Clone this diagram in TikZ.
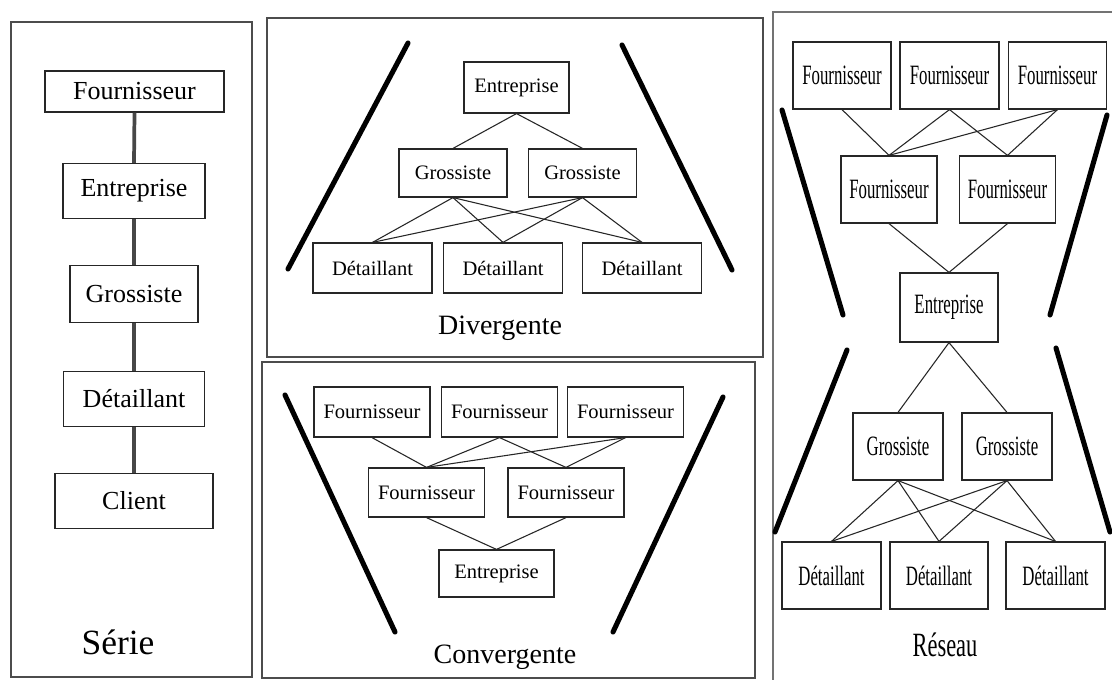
\documentclass[tikz,border=0pt]{standalone}
\usepackage{fontspec}
\setmainfont{Liberation Serif}
\usepackage{graphicx}
% condensed lettering used in the network panel
\newcommand\narrowtxt[2][0.6]{\scalebox{#1}[1]{#2}}
\begin{document}
\begin{tikzpicture}[x=0.75pt,y=-0.75pt,
  panel/.style={draw=black!70, line width=1.4pt},
  sbox/.style={draw=black!85, line width=1pt, fill=white, inner sep=0pt,
    font=\fontsize{19.5}{22}\selectfont},
  mbox/.style={draw=black!85, line width=0.9pt, fill=white, inner sep=0pt,
    font=\fontsize{15.4}{18}\selectfont},
  rbox/.style={draw=black!85, line width=0.9pt, fill=white, inner sep=0pt,
    font=\fontsize{21}{24}\selectfont},
  sline/.style={draw=black!72, line width=2.8pt},
  link/.style={draw=black!85, line width=0.8pt},
  bar/.style={line width=3.8pt, line cap=round},
  title/.style={inner sep=0pt, font=\fontsize{21}{24}\selectfont}]

\clip (0,0) rectangle (1112,680);
\fill[white] (0,0) rectangle (1112,680);

% ---------- panel frames ----------
\draw[panel] (11,22) rectangle (252,677);
\draw[panel] (267,18) rectangle (763,357);
\draw[panel] (262,362) rectangle (755,678);
\draw[panel, draw=black!55, line width=2pt] (773,690) -- (773,12) -- (1120,12);

% ---------- Série ----------
\node[sbox, minimum width=134.25pt, minimum height=30.75pt] (s1) at (134.5,91.5) {Fournisseur};
\node[sbox, minimum width=106.5pt, minimum height=41.25pt] (s2) at (134,191) {Entreprise};
\node[sbox, minimum width=96pt, minimum height=42.75pt] (s3) at (134,294) {Grossiste};
\node[sbox, minimum width=105.75pt, minimum height=41.25pt] (s4) at (134,399) {Détaillant};
\node[sbox, minimum width=118.5pt, minimum height=41.25pt] (s5) at (134,501) {Client};
\draw[sline] (s1.south) -- (s2.north);
\draw[sline] (s2.south) -- (s3.north);
\draw[sline] (s3.south) -- (s4.north);
\draw[sline] (s4.south) -- (s5.north);
\node[title, font=\fontsize{26.6}{30}\selectfont] (tserie) at (118,642) {Série};

% ---------- Divergente ----------
\draw[bar] (408,43) -- (288,269);
\draw[bar] (622,45) -- (732,270);
\node[mbox, minimum width=78.75pt, minimum height=38.25pt] (de) at (516.5,87.5) {Entreprise};
\node[mbox, minimum width=81pt, minimum height=36pt] (dg1) at (453,173) {Grossiste};
\node[mbox, minimum width=81pt, minimum height=36pt] (dg2) at (582.5,173) {Grossiste};
\node[mbox, minimum width=89.25pt, minimum height=37.5pt] (dd1) at (372.5,268) {Détaillant};
\node[mbox, minimum width=89.25pt, minimum height=37.5pt] (dd2) at (503,268) {Détaillant};
\node[mbox, minimum width=89.25pt, minimum height=37.5pt] (dd3) at (642,268) {Détaillant};
\foreach \g in {dg1,dg2} \draw[link] (de.south) -- (\g.north);
\foreach \g in {dg1,dg2} \foreach \d in {dd1,dd2,dd3} \draw[link] (\g.south) -- (\d.north);
\node[title] (tdiv) at (500,328) {Divergente};

% ---------- Convergente ----------
\draw[bar] (285,395) -- (395,632);
\draw[bar] (723,397) -- (613,632);
\node[mbox, minimum width=87pt, minimum height=37.5pt] (cf1) at (372,412) {Fournisseur};
\node[mbox, minimum width=87pt, minimum height=37.5pt] (cf2) at (499.5,412) {Fournisseur};
\node[mbox, minimum width=87pt, minimum height=37.5pt] (cf3) at (625.5,412) {Fournisseur};
\node[mbox, minimum width=87pt, minimum height=36.75pt] (cf4) at (426.5,492.5) {Fournisseur};
\node[mbox, minimum width=87pt, minimum height=36.75pt] (cf5) at (566,492.5) {Fournisseur};
\node[mbox, minimum width=86.25pt, minimum height=35.25pt] (ce) at (496.5,573.5) {Entreprise};
\draw[link] (cf1.south) -- (cf4.north);
\foreach \f in {cf2,cf3} \foreach \m in {cf4,cf5} \draw[link] (\f.south) -- (\m.north);
\foreach \m in {cf4,cf5} \draw[link] (\m.south) -- (ce.north);
\node[title] (tconv) at (505,657) {Convergente};

% ---------- Réseau ----------
\draw[bar] (782,110) -- (843,315);
\draw[bar] (1107,115) -- (1050,315);
\draw[bar] (847,350) -- (775,532);
\draw[bar] (1056,348) -- (1110,532);
\node[rbox, minimum width=73.5pt, minimum height=50.25pt] (rf1) at (842,75.5) {\narrowtxt{Fournisseur}};
\node[rbox, minimum width=74.25pt, minimum height=50.25pt] (rf2) at (949.5,75.5) {\narrowtxt{Fournisseur}};
\node[rbox, minimum width=73.5pt, minimum height=50.25pt] (rf3) at (1057.5,75.5) {\narrowtxt{Fournisseur}};
\node[rbox, minimum width=72pt, minimum height=50.25pt] (rf4) at (889,189.5) {\narrowtxt{Fournisseur}};
\node[rbox, minimum width=72pt, minimum height=50.25pt] (rf5) at (1007.5,189.5) {\narrowtxt{Fournisseur}};
\node[rbox, minimum width=73.5pt, minimum height=51.75pt] (re) at (949,307.5) {\narrowtxt{Entreprise}};
\node[rbox, minimum width=67.5pt, minimum height=50.25pt] (rg1) at (898,446.5) {\narrowtxt{Grossiste}};
\node[rbox, minimum width=67.5pt, minimum height=50.25pt] (rg2) at (1007,446.5) {\narrowtxt{Grossiste}};
\node[rbox, minimum width=74.25pt, minimum height=50.25pt] (rd1) at (831.5,575.5) {\narrowtxt{Détaillant}};
\node[rbox, minimum width=73.5pt, minimum height=50.25pt] (rd2) at (939,575.5) {\narrowtxt{Détaillant}};
\node[rbox, minimum width=74.25pt, minimum height=50.25pt] (rd3) at (1055.5,575.5) {\narrowtxt{Détaillant}};
\draw[link] (rf1.south) -- (rf4.north);
\foreach \f in {rf2,rf3} \foreach \m in {rf4,rf5} \draw[link] (\f.south) -- (\m.north);
\foreach \m in {rf4,rf5} \draw[link] (\m.south) -- (re.north);
\foreach \g in {rg1,rg2} \draw[link] (re.south) -- (\g.north);
\foreach \g in {rg1,rg2} \foreach \d in {rd1,rd2,rd3} \draw[link] (\g.south) -- (\d.north);
\node[title, font=\fontsize{25.5}{28}\selectfont] (tres) at (945,645) {\narrowtxt[0.66]{Réseau}};

\end{tikzpicture}
\end{document}
